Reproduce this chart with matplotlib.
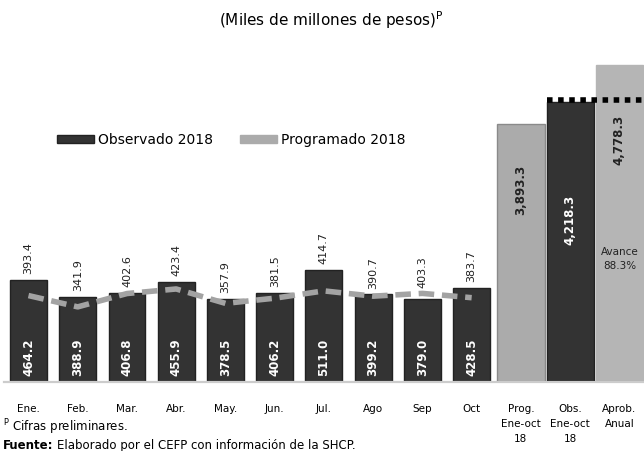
import numpy as np
import matplotlib.pyplot as plt
from matplotlib.patches import Patch

meses = ['Ene.', 'Feb.', 'Mar.', 'Abr.', 'May.', 'Jun.', 'Jul.', 'Ago', 'Sep', 'Oct']
observado = [464.2, 388.9, 406.8, 455.9, 378.5, 406.2, 511.0, 399.2, 379.0, 428.5]
programado = [393.4, 341.9, 402.6, 423.4, 357.9, 381.5, 414.7, 390.7, 403.3, 383.7]

acum_labels = ['Prog.\nEne-oct\n18', 'Obs.\nEne-oct\n18', 'Aprob.\nAnual']
acum_values = [3893.3, 4218.3, 4778.3]
avance = 88.3

dark = '#333333'
light = '#ababab'

fig = plt.figure(figsize=(6.44, 4.51), dpi=100)
ax = fig.add_axes([0.006, 0.153, 0.994, 0.758])
ax2 = ax.twinx()

x = np.arange(len(meses))
xa = np.arange(len(meses), len(meses) + len(acum_values))

# barras mensuales (escala izquierda)
ax.bar(x, observado, width=0.75, color=dark, edgecolor='#222222', linewidth=1, zorder=2)
ax.plot(x, programado, color='#a3a3a3', lw=4, dashes=(2.8, 1.4),
        solid_capstyle='round', zorder=3)

for xi, v in zip(x, observado):
    ax.text(xi, 0.073, f'{v:.1f}', transform=ax.get_xaxis_transform(),
            rotation=90, ha='center', va='center', color='white',
            fontsize=8.5, fontweight='bold', zorder=4)
for xi, o, p in zip(x, observado, programado):
    ax.annotate(f'{p:.1f}', (xi, max(o, p)), xytext=(0, 4), textcoords='offset points',
                rotation=90, ha='center', va='bottom', color='#222222',
                fontsize=8, zorder=4)

# barras acumuladas (escala derecha)
ax2.bar(xa[0], acum_values[0], width=0.96, color=light, edgecolor='#8a8a8a', linewidth=1)
ax2.bar(xa[1], acum_values[1], width=0.96, color=dark, edgecolor='#222222', linewidth=1)
ax2.bar(xa[2], acum_values[2], width=0.96, color='#b5b5b5', edgecolor='#b5b5b5', linewidth=1)
ax2.plot([xa[1] - 0.48, xa[2] + 0.55], [acum_values[1] + 40] * 2, color='black',
         lw=4, dashes=(1, 1), zorder=5, clip_on=False)

ax2.text(xa[0], 2900, f'{acum_values[0]:,.1f}', rotation=90, ha='center', va='center',
         color='#222222', fontsize=8.5, fontweight='bold')
ax2.text(xa[1], 2450, f'{acum_values[1]:,.1f}', rotation=90, ha='center', va='center',
         color='white', fontsize=8.5, fontweight='bold')
ax2.text(xa[2], 3650, f'{acum_values[2]:,.1f}', rotation=90, ha='center', va='center',
         color='#222222', fontsize=8.5, fontweight='bold')
ax2.text(xa[2], 1850, f'Avance\n{avance:.1f}%', ha='center', va='center',
         color='#222222', fontsize=7.5, linespacing=1.5)

ax.set_xlim(-0.5, 12.5)
ax.set_ylim(0, 1556)
ax2.set_ylim(0, 5155)

ax.set_xticks(list(x) + list(xa))
ax.set_xticklabels(meses + acum_labels, fontsize=7.5, va='top', linespacing=1.6)
ax.tick_params(axis='x', length=0, pad=16)
for a in (ax, ax2):
    a.set_yticks([])
    for s in ['top', 'left', 'right']:
        a.spines[s].set_visible(False)
    a.spines['bottom'].set_color('#cccccc')
    a.spines['bottom'].set_linewidth(1.5)

ax.legend(handles=[Patch(facecolor=dark, edgecolor='#222222'),
                   Patch(facecolor=light, edgecolor=light)],
          labels=['Observado 2018', 'Programado 2018'],
          loc='upper left', bbox_to_anchor=(0.075, 0.745), ncol=2, frameon=False,
          fontsize=10, handlelength=2.6, handleheight=0.6, handletextpad=0.3,
          columnspacing=2.0, borderaxespad=0)

fig.text(0.515, 0.955, r'(Miles de millones de pesos)$^{\mathregular{P}}$',
         ha='center', va='center', fontsize=11)
fig.text(0.004, 0.053, r'$^{\mathregular{P}}$ Cifras preliminares.', fontsize=8.5,
         va='center')
fig.text(0.004, 0.013, 'Fuente:', fontsize=8.5, fontweight='bold', va='center')
fig.text(0.088, 0.013, 'Elaborado por el CEFP con información de la SHCP.',
         fontsize=8.5, va='center')

fig.savefig('out.png', dpi=100)
